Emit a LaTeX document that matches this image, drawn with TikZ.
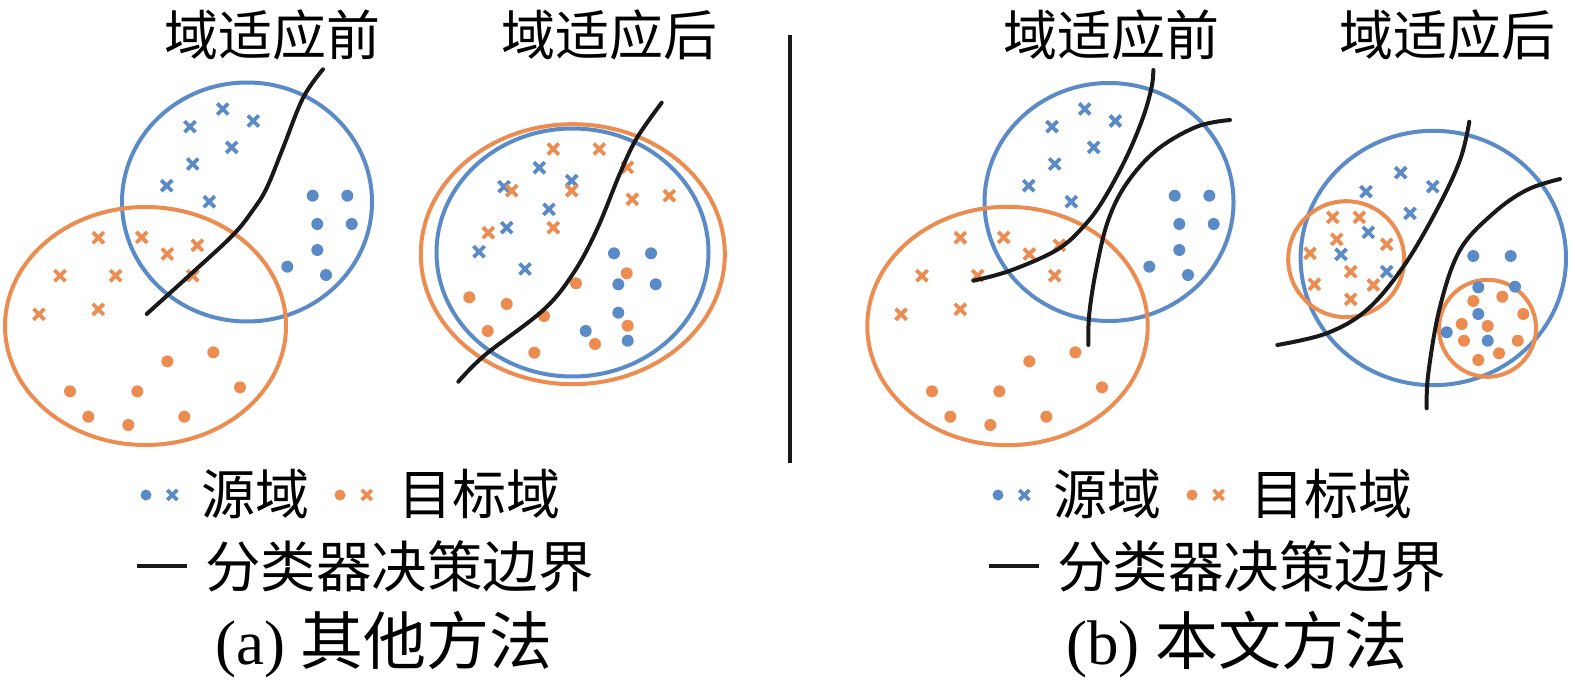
\documentclass[tikz,border=0pt]{standalone}
\usepackage{fontspec}
\setmainfont{Liberation Serif}
\newfontfamily\cjk{Noto Sans CJK SC}
\definecolor{bluC}{RGB}{91,139,199}
\definecolor{orgC}{RGB}{237,140,80}
\begin{document}
\begin{tikzpicture}[x=1bp,y=-1bp,
  ring/.style={line width=4bp},
  bnd/.style={line width=4bp,black!90,line cap=round},
  bcross/.style={bluC,line width=3.8bp},
  ocross/.style={orgC,line width=3.8bp},
  ttl/.style={font=\fontsize{54bp}{60bp}\selectfont\cjk,inner sep=0pt,anchor=west},
  lgd/.style={font=\fontsize{54bp}{60bp}\selectfont\cjk,inner sep=0pt,anchor=west},
  captxt/.style={font=\fontsize{63bp}{68bp}\selectfont,inner sep=0pt,anchor=base west}]
\useasboundingbox (0,0) rectangle (1575,681);

% ---------- titles ----------
\node[ttl] (ta1) at (164,35) {域适应前};
\node[ttl] (ta2) at (501,35) {域适应后};
\node[ttl] (tb1) at (1003,35) {域适应前};
\node[ttl] (tb2) at (1339,35) {域适应后};

% separator
\draw[line width=3.5bp,black!90] (790,35) -- (790,463);

% ================= panel (a) left =================
\draw[ring,bluC] (247,202) ellipse [x radius=125, y radius=119.5];
\draw[ring,orgC] (145.5,326) ellipse [x radius=140.5, y radius=119];
\foreach \x/\y in {222.7/109,190/126.7,253.3/121,231.7/147.3,192.7/164,166.7/185.7,209.3/201.7}
  \draw[bcross] (\x-5.5,\y-5.5) -- (\x+5.5,\y+5.5) (\x-5.5,\y+5.5) -- (\x+5.5,\y-5.5);
\foreach \x/\y in {312.7/195.7,347.3/195.7,317.3/224,351.7/224,317.3/250,287.3/266.7,326/275}
  \fill[bluC] (\x,\y) circle (6);
\foreach \x/\y in {98.3/237.7,141.7/237.3,197.3/245.3,167.3/254,60/275.7,115.7/275.7,192.7/275.7,39/314.3,98.3/309.3}
  \draw[ocross] (\x-5.5,\y-5.5) -- (\x+5.5,\y+5.5) (\x-5.5,\y+5.5) -- (\x+5.5,\y-5.5);
\foreach \x/\y in {213.3/352.3,167.3/361.3,70/391.3,137.3/391.3,240/387.3,88.3/416.7,128.3/425,184.3/416.7}
  \fill[orgC] (\x,\y) circle (6);
\draw[bnd] plot[smooth,tension=0.6] coordinates {(146.7,314) (191.7,273.3) (233,235) (253,210) (266.7,188) (283,148) (303,98) (323,69.3)};

% ================= panel (a) right =================
\draw[ring,orgC] (572.8,254.2) ellipse [x radius=152, y radius=130];
\draw[ring,bluC] (572.5,252.5) ellipse [x radius=136, y radius=124];
\foreach \x/\y in {539.3/167.7,504/186.7,571.7/180.7,549/209.3,506.7/227.7,479/251.7,525/269}
  \draw[bcross] (\x-5.5,\y-5.5) -- (\x+5.5,\y+5.5) (\x-5.5,\y+5.5) -- (\x+5.5,\y-5.5);
\foreach \x/\y in {553.3/149,599.3/149,627.3/167.3,511.7/190.7,571.7/190.7,632.3/199.3,669.3/195.7,488.3/232.7,553.3/227.7}
  \draw[ocross] (\x-5.5,\y-5.5) -- (\x+5.5,\y+5.5) (\x-5.5,\y+5.5) -- (\x+5.5,\y-5.5);
\foreach \x/\y in {614/253.3,651/253.3,618.3/284.3,655.7/284.3,618.3/312.7,585.7/331,627.7/340.7}
  \fill[bluC] (\x,\y) circle (6);
\foreach \x/\y in {626.7/273.3,576/283.3,469.3/297.3,506.7/304,544/316,487.7/331,627.7/325.7,595/344,534.3/352.7}
  \fill[orgC] (\x,\y) circle (6);
\draw[bnd] plot[smooth,tension=0.6] coordinates {(458.3,381.7) (485,355) (543.3,310) (573.3,273.3) (596.7,230) (620,173.3) (636.7,138.3) (661.7,102.7)};

% ================= panel (b) left =================
\draw[ring,bluC] (1109,202) ellipse [x radius=124.5, y radius=119];
\draw[ring,orgC] (1007.5,326) ellipse [x radius=140.2, y radius=119.2];
\foreach \x/\y in {222.7/109,190/126.7,253.3/121,231.7/147.3,192.7/164,166.7/185.7,209.3/201.7}
  \draw[bcross] (\x+862-5.5,\y-5.5) -- (\x+862+5.5,\y+5.5) (\x+862-5.5,\y+5.5) -- (\x+862+5.5,\y-5.5);
\foreach \x/\y in {312.7/195.7,347.3/195.7,317.3/224,351.7/224,317.3/250,287.3/266.7,326/275}
  \fill[bluC] (\x+862,\y) circle (6);
\foreach \x/\y in {98.3/237.7,141.7/237.3,197.3/245.3,167.3/254,60/275.7,115.7/275.7,192.7/275.7,39/314.3,98.3/309.3}
  \draw[ocross] (\x+862-5.5,\y-5.5) -- (\x+862+5.5,\y+5.5) (\x+862-5.5,\y+5.5) -- (\x+862+5.5,\y-5.5);
\foreach \x/\y in {213.3/352.3,167.3/361.3,70/391.3,137.3/391.3,240/387.3,88.3/416.7,128.3/425,184.3/416.7}
  \fill[orgC] (\x+862,\y) circle (6);
\draw[bnd] plot[smooth,tension=0.6] coordinates {(973.3,280.7) (1010,270.7) (1056.7,250) (1083.3,226.7) (1103.3,200) (1126.7,156.7) (1143.3,116.7) (1151.7,86.7) (1153.3,70)};
\draw[bnd] plot[smooth,tension=0.6] coordinates {(1088.3,345) (1089.3,313.3) (1096.7,266.7) (1108.3,220) (1126.7,183.3) (1156.7,150) (1196.7,126.7) (1230,120)};

% ================= panel (b) right =================
\draw[ring,bluC] (1433.3,258) ellipse [x radius=132.7, y radius=127.2];
\draw[ring,orgC] (1346.2,259.2) circle (58);
\draw[ring,orgC] (1487.5,328.3) circle (48.5);
\foreach \x/\y in {1400.7/172.7,1432.7/186.7,1366/191.7,1410/213.3,1368.3/232.3,1341/254.3,1386.7/271.7}
  \draw[bcross] (\x-5.5,\y-5.5) -- (\x+5.5,\y+5.5) (\x-5.5,\y+5.5) -- (\x+5.5,\y-5.5);
\foreach \x/\y in {1332.7/217.3,1359.3/217.3,1336.7/239.3,1386.7/244.3,1310/253.3,1350.7/271.7,1314.3/284.3,1373.3/285,1350.7/299.3}
  \draw[ocross] (\x-5.5,\y-5.5) -- (\x+5.5,\y+5.5) (\x-5.5,\y+5.5) -- (\x+5.5,\y-5.5);
\foreach \x/\y in {1473.3/256,1510.7/256,1478.3/287.3,1515/286.7,1478.3/314,1446.7/332.3,1487.7/340.7}
  \fill[bluC] (\x,\y) circle (6);
\foreach \x/\y in {1473.3/301,1502.3/296.7,1523.3/314,1461.7/324,1487.7/326,1464/340.7,1517.7/340.7,1499/353.3,1478.3/360}
  \fill[orgC] (\x,\y) circle (6);
\draw[bnd] plot[smooth,tension=0.6] coordinates {(1277.3,345) (1326.7,333.3) (1366.7,310) (1403.3,266.7) (1436.7,210) (1460,160) (1469.3,121.7)};
\draw[bnd] plot[smooth,tension=0.6] coordinates {(1426.7,408.3) (1428.3,373.3) (1440,306.7) (1460,250) (1493.3,213.3) (1526.7,190) (1560,179)};

% ================= legends =================
\foreach \dx/\p in {0/a,852/b}{
  \fill[bluC] (146+\dx,495) circle (5.5);
  \draw[bcross] (172.3+\dx-5,495-5) -- (172.3+\dx+5,495+5) (172.3+\dx-5,495+5) -- (172.3+\dx+5,495-5);
  \fill[orgC] (340+\dx,495) circle (5.5);
  \draw[ocross] (366.7+\dx-5,495-5) -- (366.7+\dx+5,495+5) (366.7+\dx-5,495+5) -- (366.7+\dx+5,495-5);
  \node[lgd] (src\p) at (201+\dx,494) {源域};
  \node[lgd] (tgt\p) at (398+\dx,494) {目标域};
  \draw[line width=3.5bp,black!90] (136.7+\dx,566) -- (186.7+\dx,566);
  \node[lgd,font=\fontsize{55.5bp}{60bp}\selectfont\cjk] (bd\p) at (205+\dx,566) {分类器决策边界};
}
\node[captxt] (capa) at (215,664) {(a) {\cjk 其他方法}};
\node[captxt] (capb) at (1066,664) {(b) {\cjk 本文方法}};
\end{tikzpicture}
\end{document}
